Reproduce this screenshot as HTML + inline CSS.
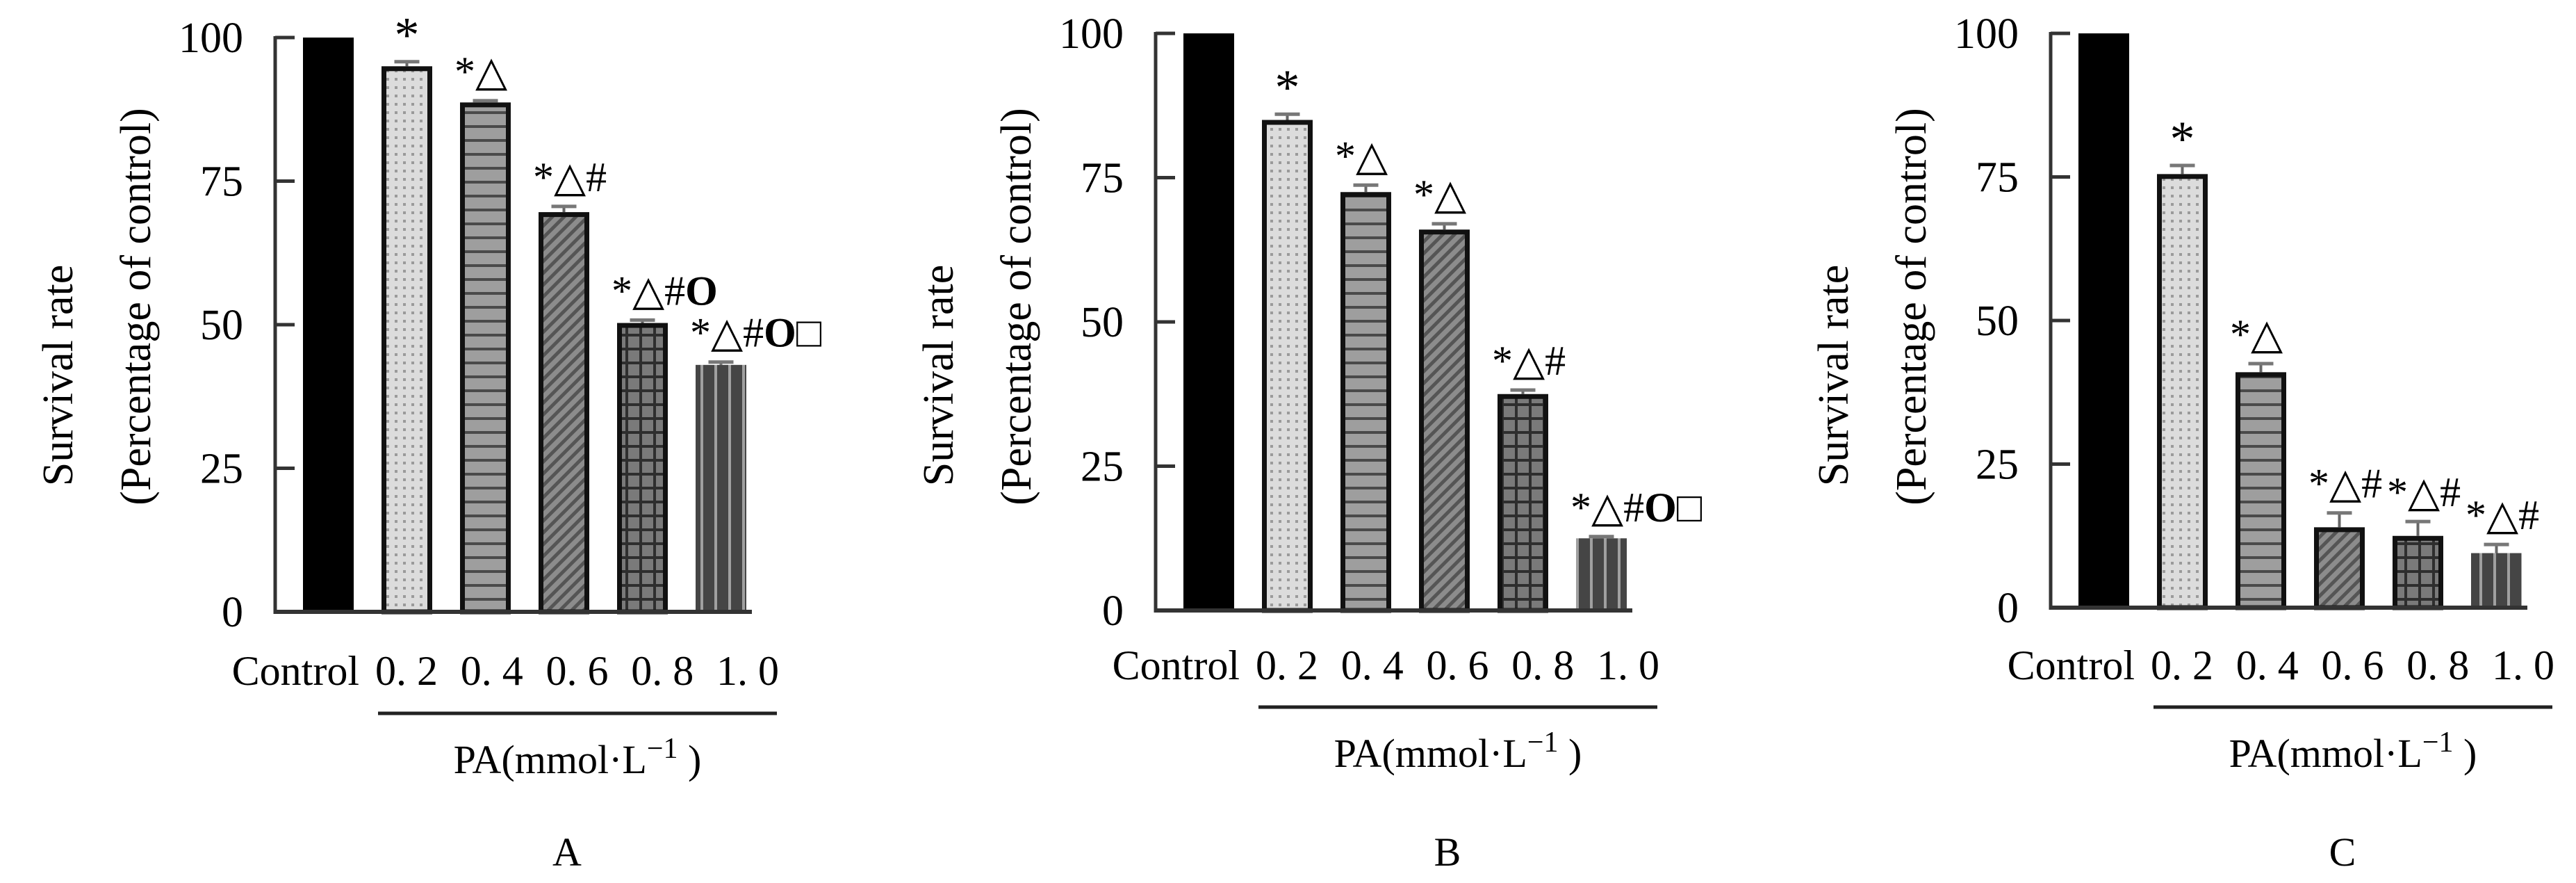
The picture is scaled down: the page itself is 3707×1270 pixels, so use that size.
<!DOCTYPE html>
<html><head><meta charset="utf-8">
<style>
html,body{margin:0;padding:0;background:#fff;}
svg{display:block;font-family:"Liberation Serif","Times New Roman","DejaVu Serif","Noto Serif CJK SC",serif;}
text{font-family:"Liberation Serif","Times New Roman","DejaVu Serif","Noto Serif CJK SC",serif;fill:#000;}
</style></head>
<body>
<svg id="chart" xmlns="http://www.w3.org/2000/svg" width="3707" height="1270" viewBox="0 0 3707 1270" font-family="'Liberation Serif', 'Times New Roman', 'DejaVu Serif', serif">
<defs>
<pattern id="pDots" width="12" height="12" patternUnits="userSpaceOnUse"><rect width="12" height="12" fill="#dcdcdc"/><rect x="4" y="4" width="4" height="4" fill="#9a9a9a"/></pattern>
<pattern id="pHStripes" width="20" height="20" patternUnits="userSpaceOnUse"><rect width="20" height="20" fill="#9e9e9e"/><rect y="0" width="20" height="4" fill="#4a4a4a"/></pattern>
<pattern id="pDiag" width="12" height="12" patternUnits="userSpaceOnUse" patternTransform="rotate(45)"><rect width="12" height="12" fill="#8c8c8c"/><rect width="5" height="12" fill="#555"/></pattern>
<pattern id="pGrid" width="20" height="20" patternUnits="userSpaceOnUse"><rect width="20" height="20" fill="#7a7a7a"/><rect width="20" height="4" fill="#2e2e2e"/><rect width="4" height="20" fill="#2e2e2e"/></pattern>
<pattern id="pVStripes" width="20" height="20" patternUnits="userSpaceOnUse"><rect width="20" height="20" fill="#454545"/><rect x="8" width="4" height="20" fill="#a0a0a0"/></pattern>
</defs>
<g id="root"></g>
</svg>
<script>
const categories = ["Control", "0. 2", "0. 4", "0. 6", "0. 8", "1. 0"];
const yTicks = [0, 25, 50, 75, 100];
const yTickLabels = ["0", "25", "50", "75", "100"];
const valuesA = [100, 95, 88.7, 69.6, 50.3, 43];
const errorsA = [0, 0.8, 0.3, 1.0, 0.5, 0.5];
const annotA = ["", "*", "*△", "*△#", "*△#O", "*△#O□"];
const valuesB = [100, 85, 72.5, 66, 37.5, 12.5];
const errorsB = [0, 1.0, 1.2, 1.0, 0.7, 0.3];
const annotB = ["", "*", "*△", "*△", "*△#", "*△#O□"];
const valuesC = [100, 75.5, 41, 14, 12.5, 9.5];
const errorsC = [0, 1.5, 1.5, 2.5, 2.5, 1.5];
const annotC = ["", "*", "*△", "*△#", "*△#", "*△#"];
const panelLetters = ["A", "B", "C"];

const FONT = "'Liberation Serif', 'Times New Roman', 'DejaVu Serif', serif";
const fills = ["#000", "url(#pDots)", "url(#pHStripes)", "url(#pDiag)", "url(#pGrid)", "url(#pVStripes)"];
const NS = "http://www.w3.org/2000/svg";
const root = document.getElementById("root");
function mk(tag, attrs, parent, txt){
  const e = document.createElementNS(NS, tag);
  for (const k in attrs) e.setAttribute(k, attrs[k]);
  if (tag === "text") e.setAttribute("font-family", FONT);
  if (txt !== undefined) e.textContent = txt;
  (parent || root).appendChild(e);
  return e;
}
function annotText(g, str, attrs){
  const t = mk("text", attrs, g);
  for (const ch of str) {
    if (ch === "O") mk("tspan", {"font-weight": "bold"}, t, ch);
    else t.appendChild(document.createTextNode(ch));
  }
  return t;
}
const panels = [
  {x0:396, y100:54, y0:880, catY:985, ulY:1026, paY:1112, values:valuesA, errors:errorsA, annot:annotA},
  {x0:1663, y100:48, y0:878, catY:977, ulY:1017, paY:1103, values:valuesB, errors:errorsB, annot:annotB},
  {x0:2951, y100:48, y0:874, catY:977, ulY:1017, paY:1103, values:valuesC, errors:errorsC, annot:annotC}
];
panels.forEach((p, pi) => {
  const g = mk("g", {});
  
  
  const y = v => p.y0 - v / 100 * (p.y0 - p.y100);
  const barX = i => p.x0 + 40 + i * 113;
  const bw = 73;
  const t1 = mk("text", {x: p.x0 - 292, y: 540, "font-size": 62, "text-anchor": "middle", transform: `rotate(-90 ${p.x0 - 292} 540)`}, g, "Survival rate");
  
  
  const t2 = mk("text", {x: p.x0 - 180, y: 441, "font-size": 62, "text-anchor": "middle", transform: `rotate(-90 ${p.x0 - 180} 441)`}, g, "(Percentage of control)");
  
  
  p.values.forEach((v, i) => {
    const x = barX(i), top = y(v);
    let r;
    if (i >= 1 && i <= 4) {
      r = mk("rect", {x: x + 3.5, y: top + 3.5, width: bw - 7, height: p.y0 - top - 3.5, fill: fills[i], stroke: "#111", "stroke-width": 7}, g);
    } else {
      r = mk("rect", {x: x, y: top, width: bw, height: p.y0 - top, fill: fills[i]}, g);
    }
    
    
    const e = p.errors[i];
    if (e > 0) {
      const et = y(v + e), cx = x + bw / 2;
      const s = mk("line", {x1: cx, x2: cx, y1: et, y2: top, stroke: "#666", "stroke-width": 4}, g);
      
      
      const c = mk("line", {x1: cx - 18, x2: cx + 18, y1: et, y2: et, stroke: "#777", "stroke-width": 5}, g);
      
      
    }
    const a = p.annot[i];
    if (a) {
      const et = y(v + e);
      const at = a.length === 1
        ? annotText(g, a, {x: x + bw / 2, y: et - 14, "font-size": 72, "text-anchor": "middle"})
        : annotText(g, a, {x: x - 8, y: et - 22, "font-size": 60});
      
      
    }
  });
  const ya = mk("line", {x1: p.x0, x2: p.x0, y1: y(100) - 2, y2: p.y0 + 3, stroke: "#333", "stroke-width": 5}, g);
  
  
  const xa = mk("line", {x1: p.x0, x2: p.x0 + 686, y1: p.y0, y2: p.y0, stroke: "#333", "stroke-width": 6}, g);
  
  
  yTicks.forEach((tv, ti) => {
    const ty = y(tv);
    const tk = mk("line", {x1: p.x0, x2: p.x0 + 28, y1: ty, y2: ty, stroke: "#333", "stroke-width": 5}, g);
    
    
    const tl = mk("text", {x: p.x0 - 46, y: ty + 21, "font-size": 62, "text-anchor": "end"}, g, yTickLabels[ti]);
    
    
  });
  categories.forEach((c, i) => {
    const el = i === 0
      ? mk("text", {x: p.x0 + 121, y: p.catY, "font-size": 60, "text-anchor": "end"}, g, c)
      : mk("text", {x: p.x0 + 189 + (i - 1) * 122.75, y: p.catY, "font-size": 60, "text-anchor": "middle"}, g, c);
    
    
  });
  const ul = mk("line", {x1: p.x0 + 148, x2: p.x0 + 722, y1: p.ulY, y2: p.ulY, stroke: "#222", "stroke-width": 5}, g);
  
  
  const pa = mk("text", {x: p.x0 + 435, y: p.paY, "font-size": 58, "text-anchor": "middle"}, g);
  
  
  pa.appendChild(document.createTextNode("PA(mmol·L"));
  mk("tspan", {dy: -22, "font-size": 42}, pa, "−1");
  mk("tspan", {dy: 22}, pa, " )");
  const lt = mk("text", {x: p.x0 + 420, y: 1245, "font-size": 58, "text-anchor": "middle"}, g, panelLetters[pi]);
  
  
});
</script>
</body></html>
